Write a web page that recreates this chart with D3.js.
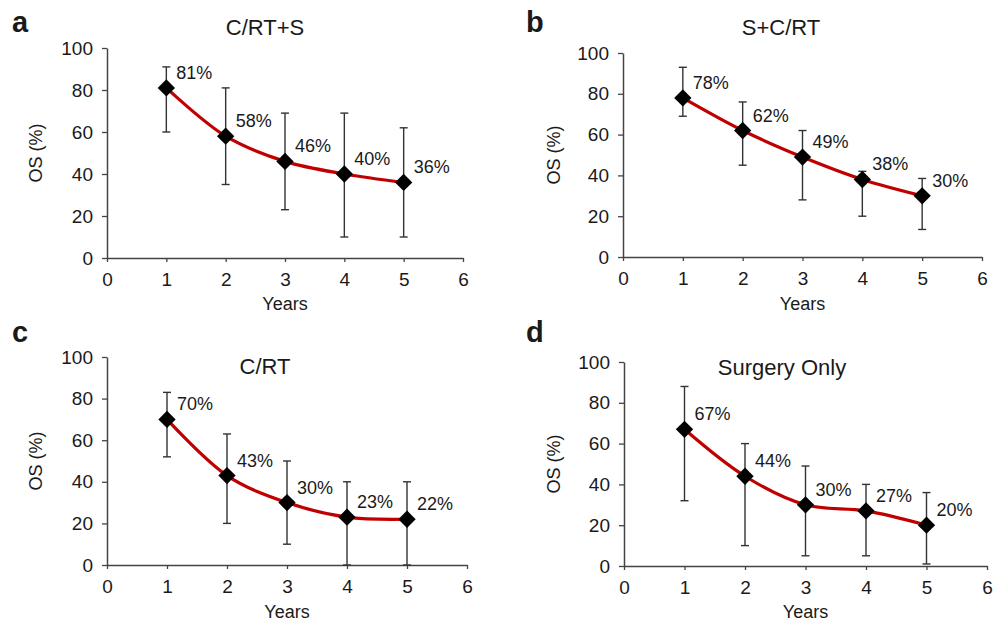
<!DOCTYPE html>
<html>
<head>
<meta charset="utf-8">
<script src="https://cdn.jsdelivr.net/npm/d3@7"></script>
<style>
  body { margin: 0; background: #fff; }
  svg text { font-family: "Liberation Sans", Arial, sans-serif; fill: #1a1a1a; }
</style>
</head>
<body>
<div id="vis-container"></div>
<script>
// data
years = [1, 2, 3, 4, 5]
xTicks = [0, 1, 2, 3, 4, 5, 6]
yTicks = [0, 20, 40, 60, 80, 100]

titles = ["C/RT+S", "S+C/RT", "C/RT", "Surgery Only"]
letters = ["a", "b", "c", "d"]

osA = [81, 58, 46, 40, 36]
lowA = [60, 35, 23, 10, 10]
highA = [91, 81, 69, 69, 62]

osB = [78, 62, 49, 38, 30]
lowB = [69, 45, 28, 20, 13.5]
highB = [93, 76, 62, 42, 38.5]

osC = [70, 43, 30, 23, 22]
lowC = [52, 20, 10, 0, 0]
highC = [83, 63, 50, 40, 40]

osD = [67, 44, 30, 27, 20]
lowD = [32, 10, 5, 5, 1]
highD = [88, 60, 49, 40, 36]

series = [[osA, lowA, highA], [osB, lowB, highB], [osC, lowC, highC], [osD, lowD, highD]]

// panel frames (pixel positions of the plot areas)
panels = [
  {x0: 107, x1: 463, y0: 258, y1: 48,  titleY: 35,  titleX: 265, letterX: 12,  letterY: 32,  yearsY: 310, osX: 42},
  {x0: 623, x1: 982, y0: 257, y1: 53,  titleY: 35,  titleX: 781, letterX: 526, letterY: 32,  yearsY: 310, osX: 560},
  {x0: 107, x1: 467, y0: 565, y1: 357, titleY: 374, titleX: 265, letterX: 12,  letterY: 342, yearsY: 618, osX: 42},
  {x0: 624, x1: 987, y0: 566, y1: 362, titleY: 375, titleX: 782, letterX: 526, letterY: 342, yearsY: 618, osX: 560}
]

svg = d3.select("#vis-container").append("svg").attr("width", 1000).attr("height", 623)

function drawPanel(p, i){
  let [os, low, high] = series[i]
  let x = d3.scaleLinear().domain([0, 6]).range([p.x0, p.x1])
  let y = d3.scaleLinear().domain([0, 100]).range([p.y0, p.y1])
  let g = svg.append("g").attr("class", "panel-" + letters[i])

  // axes
  let xAxis = g.append("g").attr("transform", "translate(0," + p.y0 + ")")
    .call(d3.axisBottom(x).tickValues(xTicks).tickFormat(d3.format("d")).tickSize(4).tickSizeOuter(0).tickPadding(11))
  let yAxis = g.append("g").attr("transform", "translate(" + p.x0 + ",0)")
    .call(d3.axisLeft(y).tickValues(yTicks).tickFormat(d3.format("d")).tickSize(5).tickSizeOuter(0).tickPadding(9))
  ;[xAxis, yAxis].forEach(a => {
    a.select(".domain").attr("stroke", "#444").attr("stroke-width", 1.5)
    a.selectAll(".tick line").attr("stroke", "#444").attr("stroke-width", 1.3)
    a.selectAll(".tick text").style("font-size", "19px").attr("fill", "#1a1a1a")
  })

  // error bars
  let bars = g.selectAll(".err").data(years).enter().append("g").attr("class", "err")
    .attr("stroke", "#333").attr("stroke-width", 1.4)
  bars.append("line").attr("x1", d => x(d)).attr("x2", d => x(d))
    .attr("y1", (d, j) => y(low[j])).attr("y2", (d, j) => y(high[j]))
  bars.append("line").attr("x1", d => x(d) - 4).attr("x2", d => x(d) + 4)
    .attr("y1", (d, j) => y(high[j])).attr("y2", (d, j) => y(high[j]))
  bars.append("line").attr("x1", d => x(d) - 4).attr("x2", d => x(d) + 4)
    .attr("y1", (d, j) => y(low[j])).attr("y2", (d, j) => y(low[j]))

  // smoothed line
  let line = d3.line().x(d => x(d)).y((d, j) => y(os[j])).curve(d3.curveCatmullRom.alpha(0.5))
  g.append("path").datum(years).attr("d", line)
    .attr("fill", "none").attr("stroke", "#c00000").attr("stroke-width", 3.2)

  // diamond markers
  g.selectAll(".marker").data(years).enter().append("path").attr("class", "marker")
    .attr("d", d3.symbol().type(d3.symbolSquare).size(150))
    .attr("transform", (d, j) => "translate(" + x(d) + "," + y(os[j]) + ") rotate(45)")
    .attr("fill", "#000")

  // value labels
  g.selectAll(".val").data(years).enter().append("text").attr("class", "val")
    .attr("x", d => x(d) + 10).attr("y", (d, j) => y(os[j]) - 9)
    .style("font-size", "18px").text((d, j) => os[j] + "%")

  // titles and labels
  g.append("text").attr("x", p.titleX).attr("y", p.titleY).attr("text-anchor", "middle")
    .style("font-size", "22px").text(titles[i])
  g.append("text").attr("x", p.letterX).attr("y", p.letterY)
    .style("font-size", "29px").style("font-weight", "bold").attr("fill", "#000").text(letters[i])
  g.append("text").attr("x", (p.x0 + p.x1) / 2).attr("y", p.yearsY).attr("text-anchor", "middle")
    .style("font-size", "18px").text("Years")
  g.append("text").attr("transform", "translate(" + p.osX + "," + ((p.y0 + p.y1) / 2) + ") rotate(-90)")
    .attr("text-anchor", "middle").style("font-size", "18px").text("OS (%)")
}

panels.forEach((p, i) => drawPanel(p, i))
</script>
</body>
</html>
